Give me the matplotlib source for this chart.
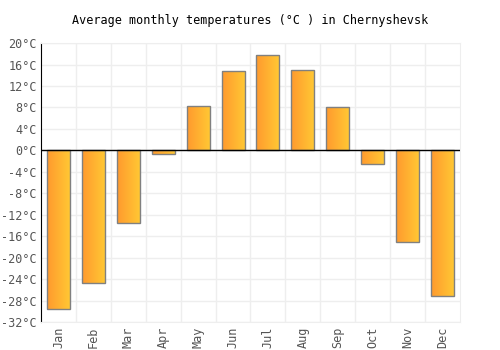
import matplotlib.pyplot as plt
import numpy as np
from matplotlib.colors import LinearSegmentedColormap

months = ['Jan', 'Feb', 'Mar', 'Apr', 'May', 'Jun', 'Jul', 'Aug', 'Sep', 'Oct', 'Nov', 'Dec']
temps = [-29.5, -24.8, -13.5, -0.6, 8.3, 14.8, 17.8, 15.0, 8.0, -2.5, -17.0, -27.2]
yticks = list(range(-32, 21, 4))

plt.rcParams['font.family'] = ['DejaVu Sans Mono']

fig = plt.figure(figsize=(5, 3.5), dpi=100)
ax = fig.add_axes([0.082, 0.08, 0.838, 0.797])

x = np.arange(len(months))
bars = ax.bar(x, temps, width=0.66, facecolor='none', edgecolor='#808080', linewidth=1, zorder=3)

# gradient fill, orange on the left to yellow on the right
cmap = LinearSegmentedColormap.from_list('grad', ['#ff9a2e', '#ffc934'])
grad = np.linspace(0, 1, 64).reshape(1, -1)
for b in bars:
    x0, y0 = b.get_x(), b.get_y()
    w, h = b.get_width(), b.get_height()
    im = ax.imshow(grad, cmap=cmap, aspect='auto', extent=[x0, x0 + w, y0, y0 + h],
                   zorder=2, interpolation='bilinear')
    im.set_clip_path(b)

ax.set_xlim(-0.5, 11.5)
ax.set_ylim(-32, 20)
ax.set_yticks(yticks)
ax.set_yticklabels([f'{t}°C' for t in yticks], fontsize=8.5, color='#555555')
ax.set_xticks(x)
ax.set_xticklabels(months, rotation=90, fontsize=8.5, color='#555555')

# grid lines between the months and at each y tick
for xv in np.arange(0.5, 11.5, 1):
    ax.axvline(xv, color='#eeeeee', linewidth=1, zorder=0)
ax.yaxis.grid(True, color='#eeeeee', linewidth=1, zorder=0)
ax.set_axisbelow(True)
ax.axhline(0, color='black', linewidth=1, zorder=4)

for s in ['top', 'right', 'bottom']:
    ax.spines[s].set_color('#eeeeee')
ax.spines['left'].set_color('black')
ax.tick_params(length=0, pad=3)

ax.set_title('Average monthly temperatures (°C ) in Chernyshevsk', fontsize=8.5, pad=14)

fig.savefig('out.png', dpi=100)
